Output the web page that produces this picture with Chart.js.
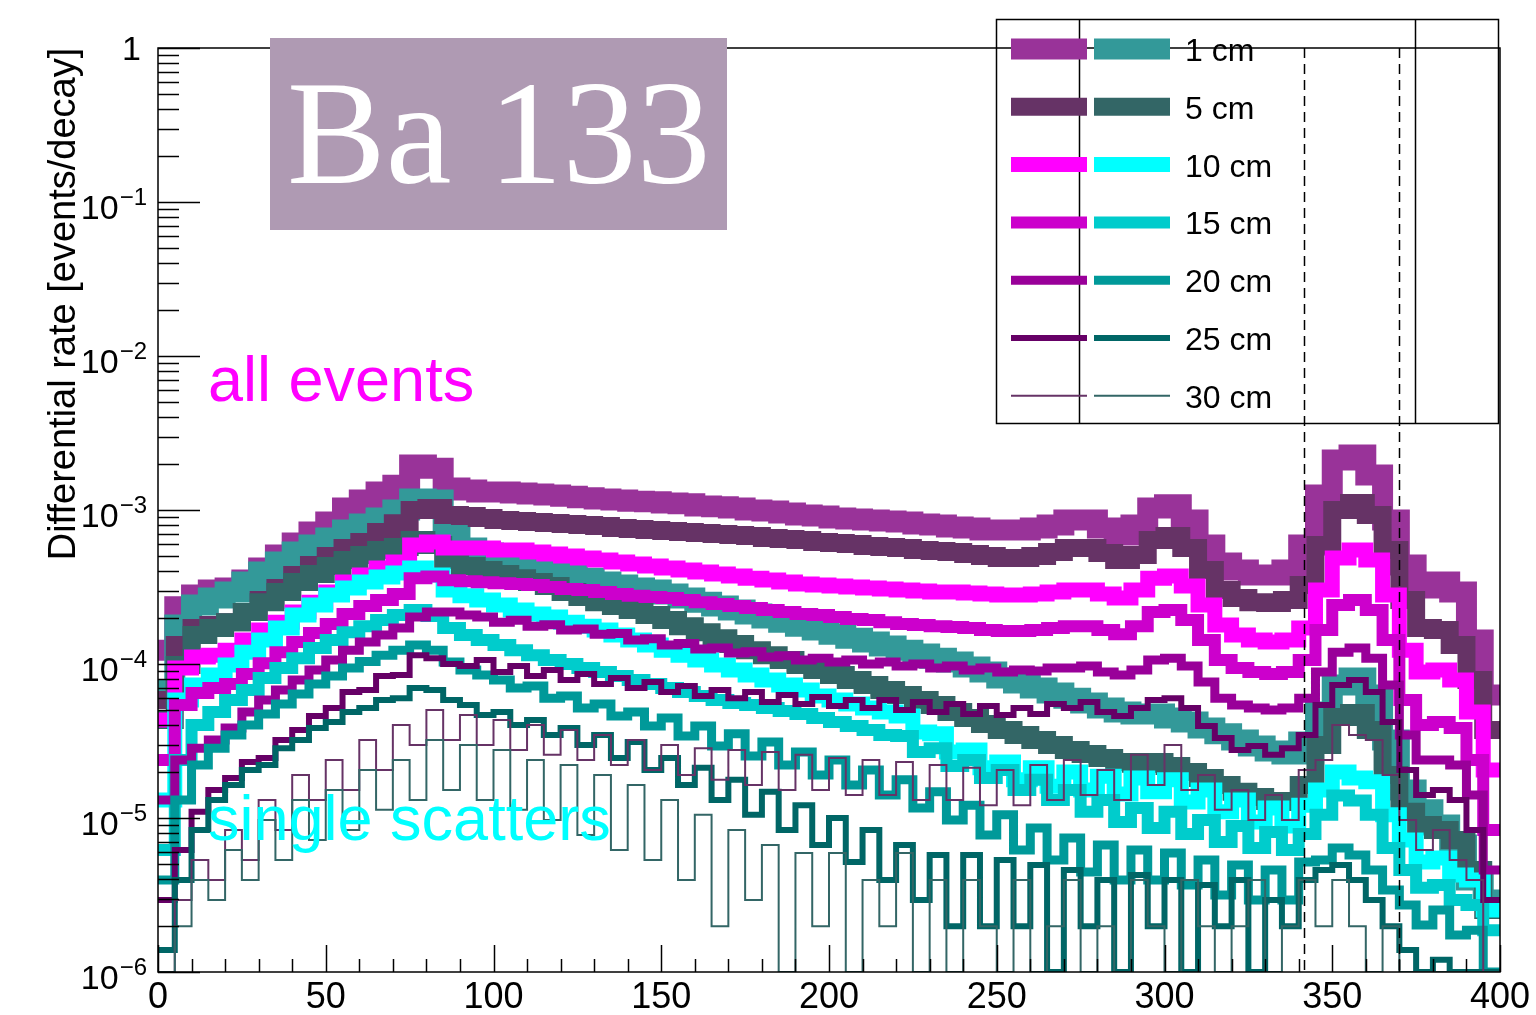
<!DOCTYPE html>
<html lang="en">
<head>
  <meta charset="UTF-8">
  <title>Ba 133 - differential rate</title>
  <script src="https://cdn.jsdelivr.net/npm/chart.js"></script>
  <style>
    html, body { margin: 0; padding: 0; background: #fff; }
    #wrap { width: 1536px; height: 1015px; position: relative; }
  </style>
</head>
<body>
  <div id="wrap"><canvas id="rateChart"></canvas></div>

  <script>
    // energy binning (keV), 5 keV wide bins
    const binEdges = [
      0, 5, 10, 15, 20, 25, 30, 35, 40, 45, 50, 55, 60, 65, 70, 75, 80, 85, 90, 95,
      100, 105, 110, 115, 120, 125, 130, 135, 140, 145, 150, 155, 160, 165, 170, 175, 180, 185, 190, 195,
      200, 205, 210, 215, 220, 225, 230, 235, 240, 245, 250, 255, 260, 265, 270, 275, 280, 285, 290, 295,
      300, 305, 310, 315, 320, 325, 330, 335, 340, 345, 350, 355, 360, 365, 370, 375, 380, 385, 390, 395,
      400
    ];

    const distances = ['1 cm', '5 cm', '10 cm', '15 cm', '20 cm', '25 cm', '30 cm'];

    // all events, events/decay per bin
    const all1 = [
      1.23e-4, 2.35e-4, 2.81e-4, 3.02e-4, 3.11e-4, 3.51e-4, 4.20e-4, 5.10e-4, 6.11e-4, 7.20e-4,
      8.36e-4, 1.03e-3, 1.16e-3, 1.31e-3, 1.45e-3, 1.96e-3, 1.87e-3, 1.39e-3, 1.35e-3, 1.31e-3,
      1.31e-3, 1.29e-3, 1.27e-3, 1.25e-3, 1.23e-3, 1.20e-3, 1.18e-3, 1.16e-3, 1.14e-3, 1.13e-3,
      1.11e-3, 1.10e-3, 1.06e-3, 1.05e-3, 1.03e-3, 1.00e-3, 9.85e-4, 9.56e-4, 9.28e-4, 9.14e-4,
      8.87e-4, 8.74e-4, 8.61e-4, 8.48e-4, 8.36e-4, 8.11e-4, 7.99e-4, 7.76e-4, 7.64e-4, 7.42e-4,
      7.42e-4, 7.42e-4, 7.64e-4, 7.99e-4, 8.61e-4, 8.61e-4, 7.64e-4, 6.88e-4, 7.99e-4, 1.03e-3,
      1.08e-3, 8.61e-4, 5.93e-4, 4.52e-4, 4.08e-4, 3.78e-4, 3.78e-4, 4.08e-4, 5.93e-4, 1.25e-3,
      2.11e-3, 2.28e-3, 1.69e-3, 8.61e-4, 4.39e-4, 3.11e-4, 3.41e-4, 2.93e-4, 1.43e-4, 6.29e-5
    ];
    const all5 = [
      5.84e-5, 1.33e-4, 1.71e-4, 1.79e-4, 1.87e-4, 2.18e-4, 2.60e-4, 3.11e-4, 3.78e-4, 4.39e-4,
      5.02e-4, 5.66e-4, 6.20e-4, 7.20e-4, 8.20e-4, 1.00e-3, 1.03e-3, 9.28e-4, 9.14e-4, 8.87e-4,
      8.61e-4, 8.48e-4, 8.36e-4, 8.23e-4, 8.11e-4, 7.99e-4, 7.87e-4, 7.64e-4, 7.53e-4, 7.42e-4,
      7.31e-4, 7.20e-4, 7.09e-4, 6.99e-4, 6.88e-4, 6.78e-4, 6.58e-4, 6.48e-4, 6.39e-4, 6.20e-4,
      6.11e-4, 6.02e-4, 5.84e-4, 5.75e-4, 5.66e-4, 5.50e-4, 5.42e-4, 5.34e-4, 5.18e-4, 5.02e-4,
      4.87e-4, 4.87e-4, 5.02e-4, 5.34e-4, 5.66e-4, 5.66e-4, 5.26e-4, 4.73e-4, 5.10e-4, 6.39e-4,
      6.78e-4, 5.66e-4, 4.08e-4, 3.02e-4, 2.68e-4, 2.52e-4, 2.49e-4, 2.60e-4, 3.26e-4, 5.93e-4,
      1.00e-3, 1.11e-3, 9.28e-4, 5.50e-4, 2.60e-4, 1.71e-4, 1.66e-4, 1.33e-4, 7.87e-5, 3.73e-5
    ];
    const all10 = [
      4.33e-5, 9.41e-5, 1.11e-4, 1.14e-4, 1.23e-4, 1.43e-4, 1.66e-4, 1.87e-4, 2.18e-4, 2.52e-4,
      2.93e-4, 3.41e-4, 3.78e-4, 4.20e-4, 4.59e-4, 5.93e-4, 6.20e-4, 5.66e-4, 5.66e-4, 5.66e-4,
      5.50e-4, 5.50e-4, 5.34e-4, 5.18e-4, 5.02e-4, 4.87e-4, 4.73e-4, 4.59e-4, 4.46e-4, 4.33e-4,
      4.20e-4, 4.08e-4, 3.96e-4, 3.84e-4, 3.73e-4, 3.61e-4, 3.51e-4, 3.41e-4, 3.31e-4, 3.26e-4,
      3.21e-4, 3.16e-4, 3.11e-4, 3.07e-4, 3.02e-4, 2.98e-4, 2.93e-4, 2.93e-4, 2.89e-4, 2.85e-4,
      2.81e-4, 2.81e-4, 2.85e-4, 2.93e-4, 3.02e-4, 3.02e-4, 2.85e-4, 2.68e-4, 3.02e-4, 3.61e-4,
      3.73e-4, 3.21e-4, 2.42e-4, 1.79e-4, 1.54e-4, 1.43e-4, 1.39e-4, 1.43e-4, 1.71e-4, 3.02e-4,
      4.87e-4, 5.50e-4, 4.73e-4, 2.81e-4, 1.23e-4, 8.87e-5, 9.14e-5, 7.87e-5, 4.88e-5, 2.05e-5
    ];
    const all15 = [
      2.38e-5, 5.42e-5, 6.48e-5, 6.98e-5, 7.41e-5, 8.61e-5, 1.01e-4, 1.19e-4, 1.39e-4, 1.59e-4,
      1.82e-4, 2.11e-4, 2.38e-4, 2.60e-4, 2.85e-4, 3.60e-4, 3.70e-4, 3.50e-4, 3.45e-4, 3.40e-4,
      3.35e-4, 3.31e-4, 3.26e-4, 3.16e-4, 3.07e-4, 3.02e-4, 2.93e-4, 2.85e-4, 2.77e-4, 2.72e-4,
      2.68e-4, 2.60e-4, 2.52e-4, 2.45e-4, 2.38e-4, 2.31e-4, 2.24e-4, 2.18e-4, 2.11e-4, 2.08e-4,
      2.02e-4, 1.96e-4, 1.93e-4, 1.87e-4, 1.82e-4, 1.79e-4, 1.76e-4, 1.74e-4, 1.71e-4, 1.66e-4,
      1.64e-4, 1.64e-4, 1.66e-4, 1.71e-4, 1.76e-4, 1.76e-4, 1.66e-4, 1.56e-4, 1.76e-4, 2.18e-4,
      2.24e-4, 1.93e-4, 1.43e-4, 1.06e-4, 9.41e-5, 8.87e-5, 8.61e-5, 8.87e-5, 1.06e-4, 1.66e-4,
      2.42e-4, 2.60e-4, 2.24e-4, 1.43e-4, 5.84e-5, 4.02e-5, 4.20e-5, 3.84e-5, 2.38e-5, 8.36e-6
    ];
    const all20 = [
      1.31e-5, 2.38e-5, 2.84e-5, 3.21e-5, 3.84e-5, 4.88e-5, 5.84e-5, 6.78e-5, 7.87e-5, 9.14e-5,
      1.06e-4, 1.23e-4, 1.39e-4, 1.54e-4, 1.71e-4, 2.02e-4, 2.18e-4, 2.18e-4, 2.08e-4, 2.02e-4,
      1.87e-4, 1.92e-4, 1.76e-4, 1.80e-4, 1.66e-4, 1.69e-4, 1.56e-4, 1.58e-4, 1.43e-4, 1.46e-4,
      1.33e-4, 1.36e-4, 1.25e-4, 1.27e-4, 1.18e-4, 1.20e-4, 1.11e-4, 1.13e-4, 1.06e-4, 1.09e-4,
      1.03e-4, 1.06e-4, 1.00e-4, 1.03e-4, 9.70e-5, 1.00e-4, 9.41e-5, 9.70e-5, 9.14e-5, 9.41e-5,
      8.87e-5, 9.14e-5, 9.00e-5, 9.41e-5, 9.41e-5, 9.70e-5, 8.87e-5, 8.48e-5, 9.14e-5, 1.06e-4,
      1.09e-4, 9.70e-5, 7.64e-5, 6.00e-5, 5.42e-5, 5.18e-5, 5.03e-5, 5.18e-5, 6.00e-5, 8.87e-5,
      1.19e-4, 1.27e-4, 1.09e-4, 7.30e-5, 3.46e-5, 2.38e-5, 2.38e-5, 2.21e-5, 1.41e-5, 4.60e-6
    ];
    const all25 = [
      2.93e-6, 6.20e-6, 1.10e-5, 1.52e-5, 1.82e-5, 2.31e-5, 2.45e-5, 3.21e-5, 3.73e-5, 4.59e-5,
      5.18e-5, 6.58e-5, 6.78e-5, 8.35e-5, 8.48e-5, 1.14e-4, 1.09e-4, 1.00e-4, 9.70e-5, 1.06e-4,
      8.87e-5, 9.70e-5, 8.35e-5, 9.14e-5, 7.87e-5, 8.61e-5, 7.41e-5, 8.11e-5, 6.98e-5, 7.64e-5,
      6.58e-5, 7.19e-5, 6.20e-5, 6.78e-5, 6.00e-5, 6.58e-5, 5.66e-5, 6.29e-5, 5.50e-5, 6.11e-5,
      5.34e-5, 5.84e-5, 5.18e-5, 5.84e-5, 5.03e-5, 5.66e-5, 4.88e-5, 5.50e-5, 4.74e-5, 5.34e-5,
      4.66e-5, 5.18e-5, 4.74e-5, 5.50e-5, 5.18e-5, 5.66e-5, 4.88e-5, 4.59e-5, 5.18e-5, 5.84e-5,
      6.00e-5, 5.18e-5, 3.96e-5, 3.31e-5, 2.76e-5, 2.93e-5, 2.57e-5, 2.84e-5, 3.46e-5, 5.42e-5,
      7.30e-5, 7.87e-5, 6.58e-5, 4.20e-5, 2.05e-5, 1.41e-5, 1.52e-5, 1.31e-5, 8.36e-6, 2.93e-6
    ];
    const all30 = [
      1.00e-6, 2.93e-6, 5.34e-6, 3.96e-6, 8.36e-6, 5.34e-6, 1.31e-5, 8.36e-6, 1.90e-5, 1.31e-5,
      2.38e-5, 1.52e-5, 3.21e-5, 2.05e-5, 4.02e-5, 2.98e-5, 5.03e-5, 3.21e-5, 4.66e-5, 2.98e-5,
      4.33e-5, 2.76e-5, 4.02e-5, 2.57e-5, 3.73e-5, 2.38e-5, 3.46e-5, 2.21e-5, 3.21e-5, 2.05e-5,
      2.98e-5, 1.90e-5, 2.84e-5, 1.77e-5, 2.76e-5, 1.64e-5, 2.68e-5, 1.52e-5, 2.57e-5, 1.52e-5,
      2.45e-5, 1.41e-5, 2.38e-5, 1.41e-5, 2.31e-5, 1.31e-5, 2.21e-5, 1.31e-5, 2.12e-5, 1.21e-5,
      2.05e-5, 1.21e-5, 2.21e-5, 1.31e-5, 2.38e-5, 1.41e-5, 2.05e-5, 1.31e-5, 2.57e-5, 1.64e-5,
      2.98e-5, 1.52e-5, 1.90e-5, 1.13e-5, 1.52e-5, 9.70e-6, 1.41e-5, 9.70e-6, 2.05e-5, 2.38e-5,
      4.02e-5, 3.46e-5, 3.21e-5, 1.90e-5, 9.70e-6, 6.20e-6, 8.36e-6, 5.34e-6, 3.96e-6, 1.00e-6
    ];

    // single scatters, events/decay per bin
    const single1 = [
      6.78e-5, 1.79e-4, 2.42e-4, 2.68e-4, 2.93e-4, 3.41e-4, 3.96e-4, 4.59e-4, 5.34e-4, 5.93e-4,
      6.58e-4, 7.42e-4, 8.11e-4, 8.87e-4, 1.00e-3, 1.18e-3, 1.16e-3, 7.20e-4, 5.66e-4, 5.26e-4,
      4.87e-4, 4.59e-4, 4.33e-4, 4.08e-4, 3.84e-4, 3.61e-4, 3.41e-4, 3.26e-4, 3.11e-4, 3.02e-4,
      2.85e-4, 2.68e-4, 2.52e-4, 2.38e-4, 2.24e-4, 2.11e-4, 1.99e-4, 1.87e-4, 1.76e-4, 1.66e-4,
      1.56e-4, 1.47e-4, 1.39e-4, 1.31e-4, 1.23e-4, 1.16e-4, 1.09e-4, 1.03e-4, 9.56e-5, 8.87e-5,
      8.11e-5, 7.53e-5, 6.98e-5, 6.48e-5, 6.00e-5, 5.58e-5, 5.18e-5, 4.88e-5, 4.74e-5, 4.74e-5,
      4.46e-5, 4.20e-5, 3.84e-5, 3.52e-5, 3.21e-5, 2.93e-5, 2.72e-5, 2.60e-5, 3.12e-5, 4.88e-5,
      7.30e-5, 8.11e-5, 6.29e-5, 3.21e-5, 1.52e-5, 1.13e-5, 9.00e-6, 6.68e-6, 3.96e-6, 2.93e-6
    ];
    const single5 = [
      4.33e-5, 9.85e-5, 1.54e-4, 1.71e-4, 1.87e-4, 2.18e-4, 2.52e-4, 2.93e-4, 3.41e-4, 3.84e-4,
      4.33e-4, 4.73e-4, 5.10e-4, 5.50e-4, 5.75e-4, 6.39e-4, 5.93e-4, 4.73e-4, 4.33e-4, 4.08e-4,
      3.84e-4, 3.61e-4, 3.41e-4, 3.21e-4, 2.93e-4, 2.72e-4, 2.52e-4, 2.38e-4, 2.24e-4, 2.08e-4,
      1.93e-4, 1.76e-4, 1.61e-4, 1.47e-4, 1.35e-4, 1.23e-4, 1.14e-4, 1.06e-4, 9.85e-5, 9.14e-5,
      8.48e-5, 7.87e-5, 7.30e-5, 6.78e-5, 6.29e-5, 5.84e-5, 5.42e-5, 4.88e-5, 4.46e-5, 4.08e-5,
      3.73e-5, 3.46e-5, 3.21e-5, 2.98e-5, 2.76e-5, 2.60e-5, 2.45e-5, 2.31e-5, 2.25e-5, 2.31e-5,
      2.18e-5, 1.99e-5, 1.82e-5, 1.64e-5, 1.48e-5, 1.37e-5, 1.29e-5, 1.27e-5, 1.64e-5, 2.98e-5,
      4.52e-5, 4.81e-5, 3.73e-5, 1.90e-5, 1.10e-5, 9.00e-6, 8.36e-6, 7.20e-6, 4.60e-6, 2.53e-6
    ];
    const single10 = [
      1.31e-5, 5.84e-5, 7.30e-5, 8.48e-5, 9.85e-5, 1.19e-4, 1.43e-4, 1.71e-4, 2.08e-4, 2.42e-4,
      2.81e-4, 3.11e-4, 3.41e-4, 3.67e-4, 3.90e-4, 4.20e-4, 3.78e-4, 3.02e-4, 2.77e-4, 2.60e-4,
      2.42e-4, 2.24e-4, 2.11e-4, 2.02e-4, 1.87e-4, 1.76e-4, 1.66e-4, 1.54e-4, 1.43e-4, 1.33e-4,
      1.23e-4, 1.14e-4, 1.06e-4, 9.85e-5, 9.14e-5, 8.48e-5, 7.87e-5, 7.30e-5, 6.78e-5, 6.20e-5,
      5.84e-5, 5.50e-5, 5.18e-5, 4.88e-5, 4.59e-5, 3.62e-5, 3.52e-5, 2.68e-5, 2.76e-5, 2.12e-5,
      2.31e-5, 1.77e-5, 2.12e-5, 1.61e-5, 1.99e-5, 1.52e-5, 1.87e-5, 1.43e-5, 1.82e-5, 1.48e-5,
      1.77e-5, 1.27e-5, 1.52e-5, 1.10e-5, 1.31e-5, 9.43e-6, 1.16e-5, 8.87e-6, 1.21e-5, 1.52e-5,
      1.99e-5, 1.82e-5, 1.72e-5, 1.05e-5, 7.20e-6, 5.18e-6, 5.50e-6, 4.26e-6, 3.96e-6, 2.53e-6
    ];
    const single15 = [
      6.20e-6, 2.38e-5, 4.02e-5, 4.88e-5, 5.84e-5, 6.78e-5, 8.11e-5, 9.41e-5, 1.09e-4, 1.27e-4,
      1.43e-4, 1.61e-4, 1.76e-4, 1.93e-4, 2.08e-4, 2.24e-4, 2.05e-4, 1.71e-4, 1.54e-4, 1.43e-4,
      1.33e-4, 1.23e-4, 1.14e-4, 1.06e-4, 1.00e-4, 9.41e-5, 8.87e-5, 8.35e-5, 7.87e-5, 7.41e-5,
      6.98e-5, 6.58e-5, 6.20e-5, 5.84e-5, 5.58e-5, 5.42e-5, 5.18e-5, 4.95e-5, 4.74e-5, 4.46e-5,
      4.20e-5, 3.96e-5, 3.73e-5, 3.46e-5, 3.41e-5, 2.68e-5, 2.84e-5, 2.18e-5, 2.38e-5, 1.82e-5,
      2.05e-5, 1.52e-5, 1.77e-5, 1.31e-5, 1.52e-5, 1.10e-5, 1.31e-5, 9.43e-6, 1.16e-5, 8.61e-6,
      1.10e-5, 7.86e-6, 9.70e-6, 6.99e-6, 8.87e-6, 6.39e-6, 8.11e-6, 6.20e-6, 7.86e-6, 1.05e-5,
      1.40e-5, 1.30e-5, 1.05e-5, 6.39e-6, 4.60e-6, 3.52e-6, 3.67e-6, 2.93e-6, 2.72e-6, 1.87e-6
    ];
    const single20 = [
      3.96e-6, 1.31e-5, 2.21e-5, 2.84e-5, 3.46e-5, 4.02e-5, 4.74e-5, 5.50e-5, 6.39e-5, 7.41e-5,
      8.35e-5, 9.41e-5, 1.04e-4, 1.14e-4, 1.23e-4, 1.33e-4, 1.23e-4, 1.03e-4, 9.14e-5, 8.48e-5,
      7.87e-5, 6.98e-5, 7.19e-5, 6.00e-5, 6.20e-5, 5.18e-5, 5.50e-5, 4.59e-5, 4.88e-5, 3.96e-5,
      4.46e-5, 3.41e-5, 3.96e-5, 2.93e-5, 3.52e-5, 2.53e-5, 3.12e-5, 2.21e-5, 2.68e-5, 1.90e-5,
      2.38e-5, 1.64e-5, 2.05e-5, 1.41e-5, 1.77e-5, 1.16e-5, 1.48e-5, 9.70e-6, 1.21e-5, 7.75e-6,
      1.05e-5, 6.20e-6, 8.61e-6, 5.34e-6, 7.42e-6, 4.46e-6, 6.68e-6, 3.96e-6, 6.20e-6, 3.96e-6,
      5.92e-6, 3.67e-6, 5.34e-6, 3.16e-6, 4.95e-6, 2.93e-6, 4.60e-6, 2.93e-6, 5.18e-6, 5.34e-6,
      6.39e-6, 5.75e-6, 4.60e-6, 3.41e-6, 2.72e-6, 2.02e-6, 2.53e-6, 1.74e-6, 1.87e-6, 1.00e-6
    ];
    const single25 = [
      1.39e-6, 3.96e-6, 8.36e-6, 1.31e-5, 1.64e-5, 2.05e-5, 2.21e-5, 2.84e-5, 3.21e-5, 3.84e-5,
      4.20e-5, 4.88e-5, 5.18e-5, 5.84e-5, 6.00e-5, 6.98e-5, 6.78e-5, 5.84e-5, 5.42e-5, 4.66e-5,
      4.88e-5, 4.02e-5, 4.33e-5, 3.46e-5, 3.84e-5, 2.98e-5, 3.46e-5, 2.45e-5, 3.12e-5, 2.05e-5,
      2.45e-5, 1.64e-5, 2.12e-5, 1.31e-5, 1.77e-5, 1.05e-5, 1.48e-5, 8.36e-6, 1.21e-5, 6.68e-6,
      1.00e-5, 5.18e-6, 8.36e-6, 3.96e-6, 6.68e-6, 2.93e-6, 5.75e-6, 1.98e-6, 5.75e-6, 1.98e-6,
      5.34e-6, 1.98e-6, 4.95e-6, 1.00e-6, 4.60e-6, 1.98e-6, 3.96e-6, 1.00e-6, 4.26e-6, 1.98e-6,
      3.96e-6, 1.00e-6, 3.67e-6, 1.98e-6, 3.96e-6, 1.00e-6, 2.93e-6, 1.98e-6, 3.96e-6, 4.60e-6,
      4.95e-6, 3.96e-6, 2.93e-6, 1.98e-6, 1.39e-6, 1.00e-6, 1.20e-6, 1.00e-6, 1.00e-6, 1.00e-6
    ];
    const single30 = [
      1.00e-6, 1.98e-6, 3.96e-6, 2.93e-6, 6.20e-6, 3.96e-6, 9.70e-6, 5.34e-6, 1.31e-5, 7.20e-6,
      1.52e-5, 8.36e-6, 2.05e-5, 1.13e-5, 2.38e-5, 1.31e-5, 3.21e-5, 1.52e-5, 2.98e-5, 1.31e-5,
      2.76e-5, 1.13e-5, 2.38e-5, 9.70e-6, 2.21e-5, 7.75e-6, 1.90e-5, 6.20e-6, 1.64e-5, 5.34e-6,
      1.31e-5, 3.96e-6, 1.05e-5, 1.98e-6, 8.36e-6, 2.93e-6, 6.68e-6, 1.00e-6, 5.92e-6, 1.98e-6,
      5.92e-6, 1.00e-6, 3.96e-6, 1.98e-6, 5.92e-6, 1.00e-6, 3.96e-6, 1.00e-6, 3.96e-6, 1.98e-6,
      1.00e-6, 3.96e-6, 1.00e-6, 1.98e-6, 3.96e-6, 1.00e-6, 1.98e-6, 1.00e-6, 3.96e-6, 1.98e-6,
      1.00e-6, 3.96e-6, 1.98e-6, 1.00e-6, 1.98e-6, 3.96e-6, 1.00e-6, 1.98e-6, 3.96e-6, 1.98e-6,
      3.96e-6, 1.98e-6, 1.00e-6, 1.98e-6, 1.00e-6, 1.00e-6, 1.00e-6, 1.00e-6, 1.00e-6, 1.00e-6
    ];

    // axis ticks and the 356 keV selection window
    const xTickValues = [0, 50, 100, 150, 200, 250, 300, 350, 400];
    const yTickValues = [1, 1e-1, 1e-2, 1e-3, 1e-4, 1e-5, 1e-6];
    const yTickExponents = ['', '\u22121', '\u22122', '\u22123', '\u22124', '\u22125', '\u22126'];
    const peakWindow = [341.5, 370];

    // styles, one per distance
    const allColors = ['#993399', '#663366', '#ff00ff', '#cc00cc', '#990099', '#660066', '#663366'];
    const singleColors = ['#339999', '#336666', '#00ffff', '#00cccc', '#009999', '#006666', '#336666'];
    const lineWidths = [21, 18, 15, 12, 9, 6, 2];

    const allEvents = [all1, all5, all10, all15, all20, all25, all30];
    const singleScatters = [single1, single5, single10, single15, single20, single25, single30];

    const SANS = '"Liberation Sans", Arial, sans-serif';

    // step histogram: one point per lower bin edge plus the closing edge
    function histogram(values) {
      const pts = values.map((v, i) => ({ x: binEdges[i], y: v }));
      pts.push({ x: binEdges[values.length], y: values[values.length - 1] });
      return pts;
    }

    function histDataset(label, values, color, width, order) {
      return {
        label: label,
        data: histogram(values),
        borderColor: color,
        backgroundColor: color,
        borderWidth: width,
        stepped: 'before', // hold each bin value up to the next edge
        fill: false,
        pointRadius: 0,
        borderJoinStyle: 'miter',
        borderCapStyle: 'butt',
        order: order
      };
    }

    // drawn in pairs (all, single) from 1 cm to 30 cm, later ones on top
    const datasets = [];
    distances.forEach((d, i) => {
      datasets.push(histDataset('all ' + d, allEvents[i], allColors[i], lineWidths[i], 100 - 2 * i));
      datasets.push(histDataset('single ' + d, singleScatters[i], singleColors[i], lineWidths[i], 99 - 2 * i));
    });

    function line(ctx, x1, y1, x2, y2) {
      ctx.beginPath();
      ctx.moveTo(x1, y1);
      ctx.lineTo(x2, y2);
      ctx.stroke();
    }

    // frame, inward ticks, labels, legend and captions in ROOT style
    const rootDecor = {
      id: 'rootDecor',
      afterDraw(chart) {
        const ctx = chart.ctx;
        const a = chart.chartArea;
        const xs = chart.scales.x;
        const ys = chart.scales.y;
        ctx.save();
        ctx.strokeStyle = '#000';
        ctx.fillStyle = '#000';
        ctx.lineWidth = 1.5;

        // peak window
        ctx.setLineDash([10, 6]);
        peakWindow.forEach(e => {
          const px = Math.round(xs.getPixelForValue(e)) + 0.5;
          line(ctx, px, a.top, px, a.bottom);
        });
        ctx.setLineDash([]);

        // frame
        ctx.strokeRect(a.left, a.top, a.right - a.left, a.bottom - a.top);

        // x ticks, every 10 keV, long every 50
        for (let v = 0; v <= 400; v += 10) {
          const px = Math.round(xs.getPixelForValue(v)) + 0.5;
          const len = v % 50 === 0 ? 27 : 13;
          line(ctx, px, a.bottom, px, a.bottom - len);
        }

        // y ticks, decades plus 2..9 minors
        yTickValues.forEach((v, i) => {
          const py = Math.round(ys.getPixelForValue(v)) + 0.5;
          line(ctx, a.left, py, a.left + 42, py);
          if (i < yTickValues.length - 1) {
            for (let m = 2; m <= 9; m++) {
              const pm = Math.round(ys.getPixelForValue(v * m / 10)) + 0.5;
              line(ctx, a.left, pm, a.left + 21, pm);
            }
          }
        });

        // y labels 10^n
        yTickValues.forEach((v, i) => {
          const py = ys.getPixelForValue(v);
          const sup = yTickExponents[i];
          ctx.textBaseline = 'alphabetic';
          if (!sup) {
            ctx.font = '34px ' + SANS;
            ctx.textAlign = 'right';
            ctx.fillText('1', 141, py + 12);
          } else {
            ctx.font = '24px ' + SANS;
            const sw = ctx.measureText(sup).width;
            ctx.textAlign = 'left';
            ctx.fillText(sup, 147 - sw, py + 3);
            ctx.font = '34px ' + SANS;
            ctx.textAlign = 'right';
            ctx.fillText('10', 146 - sw, py + 17);
          }
        });

        // y axis title
        ctx.save();
        ctx.translate(75, 304);
        ctx.rotate(-Math.PI / 2);
        ctx.font = '38px ' + SANS;
        ctx.textAlign = 'center';
        ctx.textBaseline = 'alphabetic';
        ctx.fillText('Differential rate [events/decay]', 0, 0);
        ctx.restore();

        // captions
        ctx.textAlign = 'left';
        ctx.textBaseline = 'alphabetic';
        ctx.font = '63px ' + SANS;
        ctx.fillStyle = '#ff00ff';
        ctx.fillText('all events', 208, 401);
        ctx.fillStyle = '#00ffff';
        ctx.fillText('single scatters', 208, 840);

        // isotope box
        ctx.fillStyle = '#af9ab3';
        ctx.fillRect(270, 38, 457, 192);
        ctx.fillStyle = '#fff';
        ctx.font = '148px "Liberation Serif", "Times New Roman", serif';
        ctx.fillText('Ba 133', 287, 183);

        // legend
        ctx.strokeStyle = '#000';
        ctx.lineWidth = 1.5;
        ctx.strokeRect(996.5, 19.5, 502, 404);
        line(ctx, 1079.5, 19.5, 1079.5, 423.5);
        line(ctx, 1415.5, 19.5, 1415.5, 423.5);
        const rowTop = 49, rowStep = 57.8;
        distances.forEach((d, i) => {
          const ry = rowTop + i * rowStep;
          ctx.lineWidth = lineWidths[i];
          ctx.lineCap = 'butt';
          ctx.strokeStyle = allColors[i];
          line(ctx, 1011, ry, 1087, ry);
          ctx.strokeStyle = singleColors[i];
          line(ctx, 1094, ry, 1170, ry);
          ctx.fillStyle = '#000';
          ctx.font = '32px ' + SANS;
          ctx.textAlign = 'left';
          ctx.fillText(d, 1185, ry + 12);
        });
        ctx.restore();
      }
    };

    new Chart(document.getElementById('rateChart'), {
      type: 'line',
      data: { datasets: datasets },
      options: {
        responsive: true,
        maintainAspectRatio: false,
        animation: false,
        events: [],
        layout: { padding: { top: 48, right: 36, left: 0, bottom: 0 } },
        plugins: {
          legend: { display: false },
          tooltip: { enabled: false },
          title: { display: false }
        },
        scales: {
          x: {
            type: 'linear',
            min: 0,
            max: 400,
            afterBuildTicks: s => { s.ticks = xTickValues.map(v => ({ value: v })); },
            afterFit: s => { s.height = 43; },
            ticks: {
              autoSkip: false,
              maxRotation: 0,
              padding: 4,
              color: '#000',
              font: { family: SANS, size: 36 }
            },
            grid: { display: false, drawTicks: false },
            border: { display: false }
          },
          y: {
            type: 'logarithmic',
            min: 1e-6,
            max: 1,
            afterFit: s => { s.width = 158; },
            ticks: { display: false },
            grid: { display: false, drawTicks: false },
            border: { display: false }
          }
        }
      },
      plugins: [rootDecor]
    });
  </script>
</body>
</html>
